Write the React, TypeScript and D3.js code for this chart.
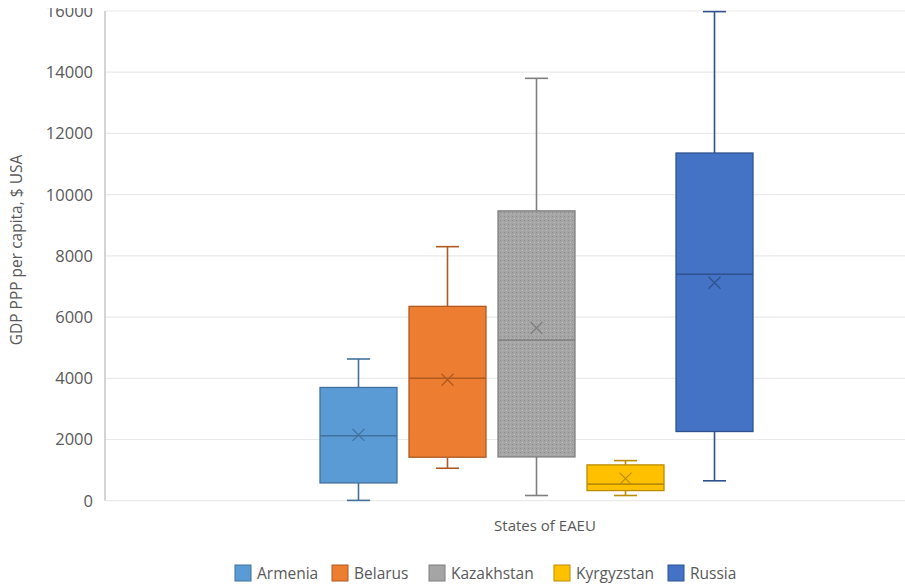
import React from "react";
import * as d3 from "d3";

const seriesNames = ["Armenia", "Belarus", "Kazakhstan", "Kyrgyzstan", "Russia"];
const minValues = [10, 1060, 170, 170, 650];
const q1Values = [580, 1420, 1430, 330, 2260];
const medianValues = [2120, 4000, 5250, 540, 7400];
const q3Values = [3700, 6350, 9470, 1170, 11360];
const maxValues = [4630, 8300, 13800, 1310, 15980];
const meanValues = [2150, 3950, 5640, 720, 7120];
const fillColors = ["#5B9BD5", "#ED7D31", "url(#kzDots)", "#FFC000", "#4472C4"];
const legendColors = ["#5B9BD5", "#ED7D31", "#A5A5A5", "#FFC000", "#4472C4"];
const strokeColors = ["#41719C", "#AE5A21", "#7F7F7F", "#BC8C00", "#2F528F"];
const yTicks = [0, 2000, 4000, 6000, 8000, 10000, 12000, 14000, 16000];

const W = 905;
const H = 586;
const FONT = "'Open Sans', sans-serif";
const TEXT = "#595959";

export default function App() {
  const y = d3.scaleLinear().domain([0, 16000]).range([500.7, 11]);
  const x = d3.scaleBand<string>().domain(seriesNames).range([320, 753]).paddingInner(0.135);
  const bw = x.bandwidth();
  const axisX = 105;

  const legendX = d3
    .scaleOrdinal<string, number>()
    .domain(seriesNames)
    .range([235, 332, 429, 554, 668]);

  return (
    <svg
      width={W}
      height={H}
      style={{ position: "absolute", left: 0, top: 0, background: "#fff" }}
      fontFamily={FONT}
    >
      <defs>
        <pattern id="kzDots" width={4} height={4} patternUnits="userSpaceOnUse">
          <rect width={4} height={4} fill="#A5A5A5" />
          <rect x={0} y={0} width={1} height={1} fill="#8E8E8E" />
          <rect x={2} y={2} width={1} height={1} fill="#BDBDBD" />
        </pattern>
        <clipPath id="tickClip">
          <rect x={0} y={8} width={W} height={H} />
        </clipPath>
      </defs>
      <rect width={W} height={H} fill="#fff" />
      {/* gridlines */}
      {yTicks.map((t) => (
        <line
          key={"g" + t}
          x1={axisX}
          x2={W}
          y1={y(t)}
          y2={y(t)}
          stroke="#EAEAEA"
          strokeWidth={1.2}
        />
      ))}
      {/* y axis line */}
      <line x1={axisX} x2={axisX} y1={y(16000)} y2={y(0)} stroke="#BFBFBF" strokeWidth={1.3} />
      {/* tick labels */}
      <g clipPath="url(#tickClip)">
        {yTicks.map((t) => (
          <text
            key={"t" + t}
            x={93}
            y={y(t)}
            dy="0.36em"
            textAnchor="end"
            fontSize={16.5}
            fill={TEXT}
          >
            {t}
          </text>
        ))}
      </g>
      {/* y title */}
      <text
        transform={`translate(22,${250}) rotate(-90)`}
        textAnchor="middle"
        fontSize={15.5}
        fill={TEXT}
      >
        GDP PPP per capita, $ USA
      </text>
      {/* x title */}
      <text x={545} y={526} dy="0.36em" textAnchor="middle" fontSize={15} fill={TEXT}>
        States of EAEU
      </text>
      {/* boxes */}
      {seriesNames.map((s, i) => {
        const x0 = x(s) as number;
        const cx = x0 + bw / 2;
        const cap = bw * 0.3;
        const st = strokeColors[i];
        const m = 6;
        return (
          <g key={s}>
            <line x1={cx} x2={cx} y1={y(maxValues[i])} y2={y(q3Values[i])} stroke={st} strokeWidth={1.6} />
            <line x1={cx} x2={cx} y1={y(q1Values[i])} y2={y(minValues[i])} stroke={st} strokeWidth={1.6} />
            <line x1={cx - cap / 2} x2={cx + cap / 2} y1={y(maxValues[i])} y2={y(maxValues[i])} stroke={st} strokeWidth={1.6} />
            <line x1={cx - cap / 2} x2={cx + cap / 2} y1={y(minValues[i])} y2={y(minValues[i])} stroke={st} strokeWidth={1.6} />
            <rect
              x={x0}
              y={y(q3Values[i])}
              width={bw}
              height={y(q1Values[i]) - y(q3Values[i])}
              fill={fillColors[i]}
              stroke={st}
              strokeWidth={1.3}
            />
            <line x1={x0} x2={x0 + bw} y1={y(medianValues[i])} y2={y(medianValues[i])} stroke={st} strokeWidth={1.6} />
            <path
              d={`M${cx - m},${y(meanValues[i]) - m}L${cx + m},${y(meanValues[i]) + m}M${cx - m},${y(meanValues[i]) + m}L${cx + m},${y(meanValues[i]) - m}`}
              stroke={st}
              strokeWidth={1.3}
              fill="none"
            />
          </g>
        );
      })}
      {/* legend */}
      {seriesNames.map((s, i) => {
        const lx = legendX(s);
        return (
          <g key={"l" + s}>
            <rect x={lx} y={565} width={16} height={16} fill={legendColors[i]} stroke={strokeColors[i]} strokeWidth={1} />
            <text x={lx + 22} y={573} dy="0.36em" fontSize={15.5} fill={TEXT}>
              {s}
            </text>
          </g>
        );
      })}
    </svg>
  );
}
